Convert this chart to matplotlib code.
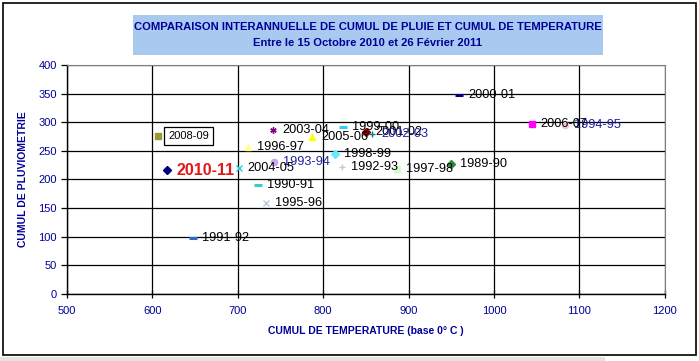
import matplotlib
matplotlib.use('Agg')
import matplotlib.pyplot as plt
from matplotlib.patches import Rectangle

plt.rcParams['font.family'] = ['Liberation Sans', 'DejaVu Sans']

# saisons, cumul de temperature (base 0°C), cumul de pluie (mm)
saisons = ['1989-90', '1990-91', '1991-92', '1992-93', '1993-94', '1994-95',
           '1995-96', '1996-97', '1997-98', '1998-99', '1999-00', '2000-01',
           '2001-02', '2002-03', '2003-04', '2004-05', '2005-06', '2006-07',
           '2008-09', '2010-11']
cumul_temp = [950, 724, 648, 822, 742, 1083, 733, 712, 886, 814, 823, 959,
              850, 857, 741, 701, 787, 1044, 607, 617]
cumul_pluie = [227, 190, 98, 222, 230, 295, 159, 257, 218, 245, 292, 348,
               283, 280, 286, 220, 274, 297, 276, 216]

# style Excel de chaque serie
marqueurs = ['D', '_', '_', '+', 'o', 'o', 'x', '^', 's', 'D', '_', '_',
             'D', '+', (6, 2, 0), 'x', '^', 's', 's', 'D']
couleurs = ['#2E8B3A', '#33CCCC', '#3366CC', '#C8C8C8', '#C8A8E8', '#F0C8D8',
            '#B8C8E0', '#FFFF99', '#CCFFCC', '#66E8FF', '#33CCFF', '#000080',
            '#800000', '#008080', '#800080', '#33CCCC', '#FFFF00', '#FF00FF',
            '#999933', '#000080']
bleu_label = '#1F1FA0'
navy = '#000099'

fig = plt.figure(figsize=(6.99, 3.61), dpi=100)
ax = fig.add_axes([0.096, 0.186, 0.855, 0.634])

for s, x, y, m, c in zip(saisons, cumul_temp, cumul_pluie, marqueurs, couleurs):
    ms = 4.5
    mew = 1.0
    if m == '_':
        ms, mew = 6, 2.2
    elif m == 'D':
        ms = 4
    ax.plot(x, y, marker=m, color=c, markersize=ms, markeredgewidth=mew,
            linestyle='none', zorder=4)
    if s == '2010-11':
        ax.annotate(s, (x, y), xytext=(7, 0), textcoords='offset points',
                    va='center', ha='left', fontsize=11.5, fontweight='bold',
                    color='#E01818', zorder=5)
    elif s == '2008-09':
        ax.annotate(s, (x, y), xytext=(7, 0), textcoords='offset points',
                    va='center', ha='left', fontsize=8, color='black', zorder=5,
                    bbox=dict(boxstyle='square,pad=0.35', fc='white', ec='black', lw=0.9))
    else:
        col = bleu_label if s in ('1993-94', '1994-95', '2002-03') else 'black'
        ax.annotate(s, (x, y), xytext=(6.5, 0), textcoords='offset points',
                    va='center', ha='left', fontsize=9.2, color=col, zorder=5)

ax.set_xlim(500, 1200)
ax.set_ylim(0, 400)
ax.set_xticks(range(500, 1201, 100))
ax.set_yticks(range(0, 401, 50))
ax.grid(True, color='black', linewidth=0.9)
ax.set_axisbelow(True)
ax.tick_params(labelsize=8, colors='black', labelcolor=navy, length=4, width=0.9)
ax.tick_params(axis='x', direction='inout', length=6, pad=6)
for side in ('top', 'right'):
    ax.spines[side].set_color('#808080')
for side in ('left', 'bottom'):
    ax.spines[side].set_linewidth(1.0)

ax.set_xlabel('CUMUL DE TEMPERATURE (base 0° C )', fontsize=7.5, fontweight='bold',
              color=navy, labelpad=7)
ax.set_ylabel('CUMUL DE PLUVIOMETRIE', fontsize=7.5, fontweight='bold',
              color=navy, labelpad=7)

# cadre du graphique et ombre
fig.patches.append(Rectangle((0.0, 0.0), 0.866, 0.012, transform=fig.transFigure,
                             fc='#E4E4E4', ec='none', zorder=0))
fig.patches.append(Rectangle((0.004, 0.016), 0.992, 0.976, transform=fig.transFigure,
                             fc='none', ec='black', lw=1.2, zorder=1))

# titre dans un bandeau bleu
fig.patches.append(Rectangle((0.190, 0.848), 0.673, 0.110, transform=fig.transFigure,
                             fc='#A9C9F0', ec='none', zorder=1))
fig.text(0.5265, 0.926, 'COMPARAISON INTERANNUELLE DE CUMUL DE PLUIE ET CUMUL DE TEMPERATURE',
         ha='center', va='center', fontsize=8.1, fontweight='bold', color=navy)
fig.text(0.5265, 0.882, 'Entre le 15 Octobre 2010 et 26 Février 2011',
         ha='center', va='center', fontsize=8.1, fontweight='bold', color=navy)

plt.savefig('out.png', dpi=100)
